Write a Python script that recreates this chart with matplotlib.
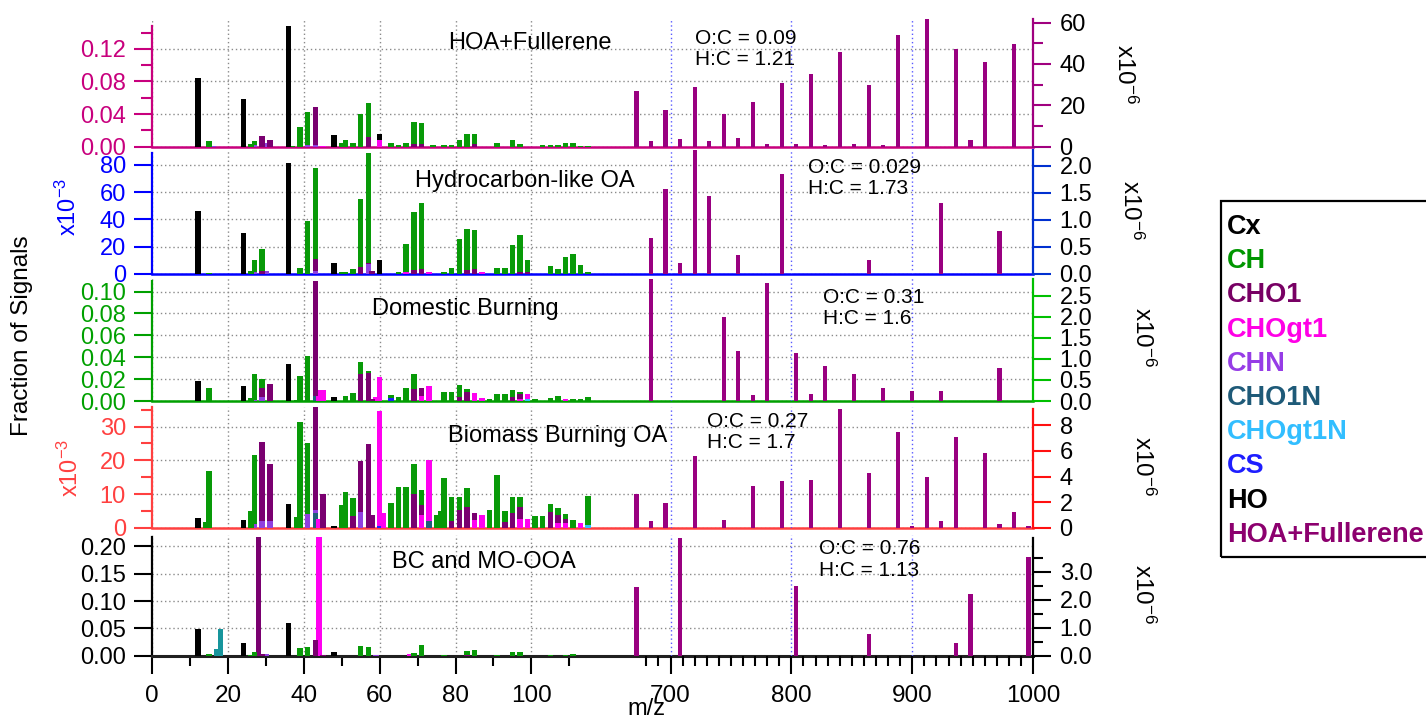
import matplotlib
matplotlib.use('Agg')
import matplotlib.pyplot as plt
from matplotlib.patches import Rectangle
from matplotlib.ticker import FixedLocator, FuncFormatter

plt.rcParams['font.family'] = ['Liberation Sans', 'DejaVu Sans']
plt.rcParams['mathtext.fontset'] = 'custom'
plt.rcParams['mathtext.rm'] = 'Liberation Sans'
plt.rcParams['mathtext.it'] = 'Liberation Sans'
plt.rcParams['mathtext.bf'] = 'Liberation Sans:bold'

# ---------------- DATA ----------------
panel_titles = ["HOA+Fullerene", "Hydrocarbon-like OA", "Domestic Burning",
                "Biomass Burning OA", "BC and MO-OOA"]
oc_values = ["0.09", "0.029", "0.31", "0.27", "0.76"]
hc_values = ["1.21", "1.73", "1.6", "1.7", "1.13"]
family_names = ["Cx", "CH", "CHO1", "CHOgt1", "CHN", "CHO1N", "CHOgt1N", "CS", "HO",
                "HOA+Fullerene"]

# Panel 1: HOA+Fullerene (fraction of signal)
p1_cx = {12: 0.0845, 24: 0.058, 36: 0.148, 48: 0.0143, 60: 0.0075}
p1_ch = {15: 0.0065, 26: 0.003, 27: 0.005, 37: 0.001, 39: 0.0245, 41: 0.041, 50: 0.004,
         51: 0.008, 53: 0.004, 55: 0.040, 57: 0.042, 63: 0.004, 65: 0.002, 67: 0.004,
         69: 0.027, 71: 0.026, 74: 0.002, 77: 0.002, 79: 0.002, 81: 0.008, 83: 0.016,
         85: 0.012, 91: 0.005, 95: 0.008, 97: 0.003, 103: 0.002, 105: 0.002, 107: 0.002,
         109: 0.005, 111: 0.005, 113: 0.001, 115: 0.001}
p1_cho1 = {29: 0.013, 31: 0.008, 43: 0.047, 57: 0.012, 69: 0.003, 71: 0.003, 85: 0.003}
p1_chogt1 = {45: 0.001, 60: 0.008}
p1_chn = {16: 0.001, 27: 0.002, 30: 0.004, 41: 0.002, 43: 0.002}

# Panel 2: Hydrocarbon-like OA (x10^-3)
p2_cx = {12: 46.4, 24: 30.0, 36: 81.7, 48: 7.6, 60: 10.1}
p2_ch = {15: 0.8, 26: 2.0, 27: 9.3, 29: 16.5, 39: 3.9, 41: 38.8, 43: 67.0, 50: 1.0,
         51: 1.5, 53: 3.4, 55: 50.1, 57: 80.6, 65: 1.0, 67: 20.6, 69: 42.7, 71: 48.4,
         77: 1.5, 79: 4.4, 81: 25.3, 83: 30.1, 85: 29.0, 91: 3.9, 93: 4.2, 95: 21.1,
         97: 27.0, 99: 8.8, 105: 5.9, 107: 3.4, 109: 12.3, 111: 14.7, 113: 6.4, 115: 1.0}
p2_cho1 = {29: 1.7, 43: 8.8, 55: 4.9, 57: 1.0, 58: 2.0, 69: 2.5, 71: 3.4, 83: 2.5,
           85: 3.4, 97: 1.5, 99: 1.0}
p2_chogt1 = {67: 1.5, 73: 1.0, 87: 1.0}
p2_chn = {27: 1.0, 30: 2.0, 43: 2.2, 57: 7.0}

# Panel 3: Domestic Burning (fraction of signal)
p3_cx = {12: 0.0183, 24: 0.014, 36: 0.0335, 48: 0.0037}
p3_ch = {15: 0.0116, 26: 0.003, 27: 0.0238, 29: 0.0085, 38: 0.001, 39: 0.023, 41: 0.041,
         51: 0.005, 53: 0.0073, 55: 0.0104, 57: 0.002, 63: 0.003, 65: 0.004, 67: 0.012,
         69: 0.014, 77: 0.008, 79: 0.0085, 81: 0.011, 83: 0.003, 89: 0.002, 91: 0.0067,
         93: 0.0064, 95: 0.006, 97: 0.002, 101: 0.002, 105: 0.003, 107: 0.0045,
         111: 0.002, 113: 0.002, 115: 0.0037}
p3_cho1 = {29: 0.0079, 31: 0.0155, 43: 0.105, 55: 0.025, 57: 0.0254, 58: 0.002,
           69: 0.011, 71: 0.0066, 81: 0.004, 83: 0.008, 95: 0.004, 97: 0.004}
p3_chogt1 = {44: 0.0105, 45: 0.0098, 59: 0.004, 60: 0.022, 71: 0.005, 73: 0.0137,
             85: 0.0076, 87: 0.003, 97: 0.002, 99: 0.005, 109: 0.002}
p3_chn = {27: 0.001, 29: 0.0037}
p3_cho1n = {43: 0.005}
p3_chogt1n = {99: 0.0015}
p3_cs = {63: 0.0024}

# Panel 4: Biomass Burning OA (x10^-3)
p4_cx = {12: 2.9, 24: 2.4, 36: 7.0, 48: 0.7}
p4_ch = {14: 1.8, 15: 16.8, 26: 4.9, 27: 20.3, 38: 3.2, 39: 31.3, 41: 21.2, 50: 6.7,
         51: 10.7, 53: 5.5, 63: 7.3, 65: 12.0, 67: 12.0, 69: 8.9, 71: 4.5, 75: 3.7,
         76: 5.1, 77: 14.7, 79: 7.3, 81: 4.0, 83: 5.4, 89: 5.3, 91: 15.6, 93: 3.0,
         95: 4.8, 97: 3.0, 101: 3.5, 103: 3.5, 105: 2.4, 107: 2.0, 109: 1.5, 111: 2.4,
         115: 8.8}
p4_cho1 = {29: 23.2, 31: 16.7, 43: 30.4, 45: 10.1, 53: 3.5, 55: 15.2, 57: 24.7, 58: 3.7,
           69: 10.0, 71: 2.8, 79: 2.0, 81: 5.3, 83: 6.3, 85: 2.0, 93: 1.9, 95: 4.3,
           97: 3.5, 105: 4.7, 107: 2.5, 109: 1.2}
p4_chogt1 = {44: 2.8, 60: 34.0, 61: 4.4, 71: 3.9, 73: 18.0, 85: 2.5, 87: 3.8, 97: 2.8,
             99: 2.8, 107: 1.4, 109: 1.4, 113: 1.5}
p4_chn = {27: 1.2, 29: 2.1, 31: 2.1, 41: 4.0, 43: 1.0, 55: 4.6}
p4_cho1n = {43: 4.3, 73: 2.0}
p4_chogt1n = {115: 0.8}
p4_cs = {60: 0.7}

# Panel 5: BC and MO-OOA (fraction of signal)
p5_cx = {12: 0.048, 24: 0.024, 36: 0.059, 48: 0.0066}
p5_ch = {15: 0.004, 26: 0.002, 27: 0.007, 39: 0.015, 41: 0.016, 55: 0.0186, 57: 0.0156,
         69: 0.005, 71: 0.019, 77: 0.002, 83: 0.006, 85: 0.011, 91: 0.002, 95: 0.006,
         97: 0.006, 105: 0.002, 109: 0.002, 111: 0.004}
p5_cho1 = {28: 0.217, 29: 0.004, 43: 0.029, 45: 0.002, 83: 0.002}
p5_chogt1 = {44: 0.217, 68: 0.003}
p5_chn = {30: 0.003, 59: 0.002}
p5_ho = {17: 0.0126, 18: 0.049}

# High-mass carbon cluster ions (x10^-6)
fullerene_mz = [672, 684, 696, 708, 720, 732, 744, 756, 768, 780, 792, 804, 816, 828,
                840, 852, 864, 876, 888, 900, 912, 924, 936, 948, 960, 972, 984, 996]
p1_full = [27.1, 2.9, 17.6, 3.9, 28.7, 2.9, 16.0, 4.4, 21.8, 1.1, 30.6, 1.3, 35.2, 0.8,
           45.8, 1.1, 29.8, 0.8, 54.0, 0, 61.6, 0, 47.4, 3.1, 41.1, 0, 49.7, 0]
p2_full = [0, 0.667, 1.58, 0.20, 2.30, 1.44, 0, 0.35, 0, 0, 1.84, 0, 0, 0,
           0, 0, 0.25, 0, 0, 0, 0, 1.32, 0, 0, 0, 0.79, 0, 0]
p3_full = [0, 2.90, 0, 0, 0, 0, 1.99, 1.19, 0.14, 2.81, 0, 1.14, 0.17, 0.84,
           0, 0.64, 0, 0.30, 0, 0.23, 0, 0.23, 0, 0, 0, 0.79, 0, 0]
p4_full = [2.65, 0.57, 1.95, 0, 5.6, 0, 0.62, 0, 3.25, 0, 3.66, 0, 3.71, 0,
           9.25, 0, 4.26, 0, 7.5, 0.13, 3.95, 0.57, 7.06, 0, 5.84, 0.34, 1.25, 0.16]
p5_full = [2.46, 0, 0, 4.19, 0, 0, 0, 0, 0, 0, 0, 2.50, 0, 0,
           0, 0, 0.77, 0, 0, 0, 0, 0, 0.46, 2.21, 0, 0, 0, 3.54]

low_ticks = [0, 20, 40, 60, 80, 100]
low_minor = [10, 30, 50, 70, 90, 110]
high_ticks = [700, 800, 900, 1000]
high_minor = [680, 690, 710, 720, 730, 740, 750, 760, 770, 780, 790, 810, 820, 830, 840,
              850, 860, 870, 880, 890, 910, 920, 930, 940, 950, 960, 970, 980, 990]

panels_low = [
    {"Cx": p1_cx, "CH": p1_ch, "CHO1": p1_cho1, "CHOgt1": p1_chogt1, "CHN": p1_chn},
    {"Cx": p2_cx, "CH": p2_ch, "CHO1": p2_cho1, "CHOgt1": p2_chogt1, "CHN": p2_chn},
    {"Cx": p3_cx, "CH": p3_ch, "CHO1": p3_cho1, "CHOgt1": p3_chogt1, "CHN": p3_chn,
     "CHO1N": p3_cho1n, "CHOgt1N": p3_chogt1n, "CS": p3_cs},
    {"Cx": p4_cx, "CH": p4_ch, "CHO1": p4_cho1, "CHOgt1": p4_chogt1, "CHN": p4_chn,
     "CHO1N": p4_cho1n, "CHOgt1N": p4_chogt1n, "CS": p4_cs},
    {"Cx": p5_cx, "CH": p5_ch, "CHO1": p5_cho1, "CHOgt1": p5_chogt1, "CHN": p5_chn,
     "HO": p5_ho},
]
panels_high = [p1_full, p2_full, p3_full, p4_full, p5_full]

# ---------------- STYLE / LAYOUT ----------------
bar_colors = {"Cx": "#000000", "CH": "#089A08", "CHO1": "#7A0070", "CHOgt1": "#FF00F0",
              "CHN": "#9040E0", "CHO1N": "#1E5F7A", "CHOgt1N": "#30C0FF", "CS": "#1E1EFF",
              "HO": "#17959C", "HOA+Fullerene": "#990080"}
legend_colors = ["#000000", "#009600", "#780064", "#FF00E6", "#963CE6", "#1E5A78",
                 "#32BEFF", "#1E1EFF", "#000000", "#8C006E"]
stack_order = ["HO", "CS", "CHOgt1N", "CHO1N", "CHN", "CHOgt1", "CHO1", "CH", "Cx"]

W, H = 1426, 718
X0, X1 = 152.3, 1033.2
fig = plt.figure(figsize=(W / 100, H / 100), dpi=100)

layout = [
    dict(top=19.3, zero=146.7, yl=0.1563, yr=61.6, cl="#C8007D", cr="#A0007F",
         lmaj=[0, 0.04, 0.08, 0.12], lmin=[0.02, 0.06, 0.10, 0.14], lfmt="{:.2f}",
         rmaj=[0, 20, 40, 60], rmin=[10, 30, 50], rfmt="{:.0f}",
         title=(529.5, 42.7), oc=(694.6, 38.3, 59.3), r6=(1125, 74), l3=None),
    dict(top=149.7, zero=273.7, yl=91.26, yr=2.30, cl="#0000FF", cr="#0030D0",
         lmaj=[0, 20, 40, 60, 80], lmin=[], lfmt="{:.0f}",
         rmaj=[0, 0.5, 1.0, 1.5, 2.0], rmin=[], rfmt="{:.1f}",
         title=(525, 181), oc=(807.9, 167.7, 188.3), r6=(1131, 210), l3=(68, 207)),
    dict(top=278.3, zero=401.0, yl=0.1121, yr=2.921, cl="#00A000", cr="#00C000",
         lmaj=[0, 0.02, 0.04, 0.06, 0.08, 0.10], lmin=[], lfmt="{:.2f}",
         rmaj=[0, 0.5, 1.0, 1.5, 2.0, 2.5], rmin=[], rfmt="{:.1f}",
         title=(465, 309.3), oc=(823.2, 297.3, 319.0), r6=(1143, 337), l3=None),
    dict(top=407.3, zero=528.0, yl=35.7, yr=9.39, cl="#FF4040", cr="#FF1010",
         lmaj=[0, 10, 20, 30], lmin=[5, 15, 25, 35], lfmt="{:.0f}",
         rmaj=[0, 2, 4, 6, 8], rmin=[], rfmt="{:.0f}",
         title=(558, 436), oc=(707.0, 421.7, 442.7), r6=(1143, 466), l3=(70, 468)),
    dict(top=535.0, zero=655.7, yl=0.221, yr=4.31, cl="#000000", cr="#000000",
         lmaj=[0, 0.05, 0.10, 0.15, 0.20], lmin=[], lfmt="{:.2f}",
         rmaj=[0, 1, 2, 3], rmin=[0.5, 1.5, 2.5, 3.5], rfmt="{:.1f}",
         title=(484, 561.7), oc=(818.6, 549.0, 570.7), r6=(1143, 594), l3=None),
]

LOW_W = 1.45
HIGH_W = 3.6
grid_kw = dict(color="#8a8a8a", linestyle=(0, (1, 2)), linewidth=1.0)
bgrid_kw = dict(color="#5a5aff", linestyle=(0, (1, 2)), linewidth=1.0)


def fmt(f):
    return FuncFormatter(lambda v, p: f.format(v))


for i, L in enumerate(layout):
    rect = [X0 / W, 1 - L["zero"] / H, (X1 - X0) / W, (L["zero"] - L["top"]) / H]
    axL = fig.add_axes(rect)
    axR = fig.add_axes(rect)
    axR.patch.set_visible(False)

    axL.set_xlim(0, (X1 - X0) / 3.79)
    axR.set_xlim(1000 - (X1 - X0) / 1.209, 1000)
    axL.set_ylim(0, L["yl"])
    axR.set_ylim(0, L["yr"])

    # low-mass stacked bars
    bottoms = {}
    for fam in stack_order:
        d = panels_low[i].get(fam)
        if not d:
            continue
        xs = sorted(d)
        hs = [d[m] for m in xs]
        bs = [bottoms.get(m, 0.0) for m in xs]
        axL.bar(xs, hs, bottom=bs, width=LOW_W, color=bar_colors[fam], linewidth=0,
                zorder=3)
        for m, h in zip(xs, hs):
            bottoms[m] = bottoms.get(m, 0.0) + h
    maxL = max(bottoms.values())

    # high-mass bars
    hx = [m for m, v in zip(fullerene_mz, panels_high[i]) if v > 0]
    hv = [v for v in panels_high[i] if v > 0]
    axR.bar(hx, hv, width=HIGH_W, color=bar_colors["HOA+Fullerene"], linewidth=0,
            zorder=3)
    maxR = max(hv)

    # spines
    for s in ["top", "right"]:
        axL.spines[s].set_visible(False)
    for s in ["top", "left", "bottom"]:
        axR.spines[s].set_visible(False)
    axL.spines["left"].set_color(L["cl"])
    axL.spines["left"].set_linewidth(1.6)
    axL.spines["left"].set_bounds(0, min(maxL, L["yl"]))
    axL.spines["bottom"].set_color(L["cl"] if i < 4 else "#202020")
    axL.spines["bottom"].set_linewidth(1.8 if i < 4 else 2.2)
    axR.spines["right"].set_color(L["cr"])
    axR.spines["right"].set_linewidth(1.6)
    axR.spines["right"].set_bounds(0, min(maxR, L["yr"]))

    # y ticks
    axL.yaxis.set_major_locator(FixedLocator(L["lmaj"]))
    axL.yaxis.set_minor_locator(FixedLocator(L["lmin"]))
    axL.yaxis.set_major_formatter(fmt(L["lfmt"]))
    axL.tick_params(axis="y", which="major", length=13, width=1.5, color=L["cl"],
                    labelcolor=L["cl"], labelsize=17, pad=6)
    axL.tick_params(axis="y", which="minor", length=8, width=1.5, color=L["cl"])

    axR.yaxis.tick_right()
    axR.yaxis.set_major_locator(FixedLocator(L["rmaj"]))
    axR.yaxis.set_minor_locator(FixedLocator(L["rmin"]))
    axR.yaxis.set_major_formatter(fmt(L["rfmt"]))
    axR.tick_params(axis="y", which="major", length=13, width=1.5, color=L["cr"],
                    labelcolor="black", labelsize=17, pad=6)
    axR.tick_params(axis="y", which="minor", length=7, width=1.5, color=L["cr"])

    # x ticks & grids
    axL.xaxis.set_major_locator(FixedLocator(low_ticks))
    axR.xaxis.set_major_locator(FixedLocator(high_ticks))
    axL.set_axisbelow(True)
    axR.set_axisbelow(True)
    axL.grid(True, axis="both", which="major", **grid_kw)
    axR.grid(True, axis="x", which="major", **bgrid_kw)
    axR.grid(False, axis="y")
    if i < 4:
        axL.tick_params(axis="x", which="both", length=0, labelbottom=False)
        axR.tick_params(axis="x", which="both", length=0, labelbottom=False)
    else:
        axL.xaxis.set_minor_locator(FixedLocator(low_minor))
        axR.xaxis.set_minor_locator(FixedLocator(high_minor))
        axL.xaxis.set_major_formatter(fmt("{:.0f}"))
        axR.xaxis.set_major_formatter(fmt("{:.0f}"))
        for ax in (axL, axR):
            ax.tick_params(axis="x", which="major", length=13, width=1.5, color="black",
                           labelsize=17.5, pad=8)
            ax.tick_params(axis="x", which="minor", length=7.5, width=1.5, color="black")

    # texts
    fig.text(L["title"][0] / W, 1 - L["title"][1] / H, panel_titles[i], ha="center",
             va="center", fontsize=17)
    fig.text(L["oc"][0] / W, 1 - L["oc"][1] / H, "O:C = " + oc_values[i], ha="left",
             va="center", fontsize=15)
    fig.text(L["oc"][0] / W, 1 - L["oc"][2] / H, "H:C = " + hc_values[i], ha="left",
             va="center", fontsize=15)
    fig.text(L["r6"][0] / W, 1 - L["r6"][1] / H, r"x10$^{-6}$", rotation=-90,
             ha="center", va="center", fontsize=17.5)
    if L["l3"] is not None:
        fig.text(L["l3"][0] / W, 1 - L["l3"][1] / H, r"x10$^{-3}$", rotation=90,
                 ha="center", va="center", fontsize=17, color=L["cl"])

fig.text(22 / W, 1 - 336 / H, "Fraction of Signals", rotation=90, ha="center",
         va="center", fontsize=17.5)
fig.text(646 / W, 1 - 709 / H, "m/z", ha="center", va="center", fontsize=17)

# legend box
fig.add_artist(Rectangle((1220.7 / W, 1 - 556.7 / H), (1450 - 1220.7) / W,
                         (556.7 - 200.7) / H, transform=fig.transFigure, fill=False,
                         edgecolor="black", linewidth=1.6))
for k, (name, col) in enumerate(zip(family_names, legend_colors)):
    fig.text(1227 / W, 1 - (234 + 34.2 * k) / H, name, ha="left", va="baseline",
             fontsize=19.5, fontweight="bold", color=col)

fig.savefig("out.png", dpi=100)
